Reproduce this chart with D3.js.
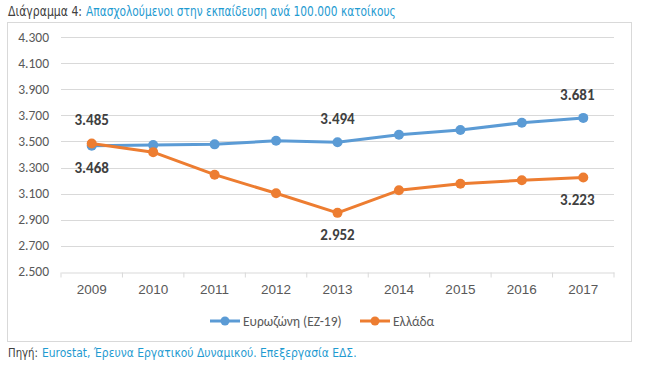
<!DOCTYPE html>
<html><head><meta charset="utf-8">
<script src="https://cdn.jsdelivr.net/npm/d3@7"></script>
<style>
body{margin:0;background:#fff;}
svg{display:block;font-family:Carlito,Calibri,"Open Sans",sans-serif;}
</style></head>
<body><svg id="c" width="647" height="370"></svg>
<script>
const years = ["2009","2010","2011","2012","2013","2014","2015","2016","2017"];
const eurozone = [3468,3472,3478,3506,3494,3552,3588,3644,3681];
const greece = [3485,3418,3245,3102,2952,3125,3176,3202,3223];
const yTicks = [2500,2700,2900,3100,3300,3500,3700,3900,4100,4300];
const seriesNames = ["Ευρωζώνη (ΕΖ-19)","Ελλάδα"];
const colors = ["#5b9bd5","#ed7d31"];
// labelled points: [series index, year index, position]
const labelled = [[0,0,"below"],[1,0,"above"],[0,4,"above"],[1,4,"below"],[0,8,"above"],[1,8,"below"]];

const svg = d3.select("#c");
const fmtTick = v => (v/1000).toFixed(3);

// text squeezed horizontally to span [x0, x1]
function squeezed(str, x0, x1, yb, fs, fill){
  const g = svg.append("g");
  const tx = g.append("text").attr("font-size",fs).attr("fill",fill)
    .attr("font-family","'DejaVu Sans Condensed','DejaVu Sans',sans-serif").text(str);
  const w = tx.node().getComputedTextLength();
  g.attr("transform",`translate(${x0},${yb}) scale(${(x1-x0)/w},1)`);
}
squeezed("Διάγραμμα 4:", 8, 82, 15.5, 14.5, "#404040");
squeezed("Απασχολούμενοι στην εκπαίδευση ανά 100.000 κατοίκους", 86, 396, 15.5, 14.5, "#1f9bd1");

// frame
svg.append("rect").attr("x",7.5).attr("y",22.5).attr("width",624).attr("height",319)
  .attr("fill","none").attr("stroke","#d9d9d9");

const x = d3.scaleBand().domain(years).range([61,614]);
const y = d3.scaleLinear().domain([2500,4300]).range([271.7,37.3]);

// grid
svg.append("g").selectAll("line").data(yTicks.slice(1)).join("line")
  .attr("x1",61).attr("x2",614).attr("y1",d=>Math.round(y(d))+0.5).attr("y2",d=>Math.round(y(d))+0.5)
  .attr("stroke","#d9d9d9").attr("stroke-width",1);

// y labels
svg.append("g").selectAll("text").data(yTicks).join("text")
  .attr("x",49).attr("y",d=>y(d)+4.5).attr("text-anchor","end").attr("font-size",13.5).attr("fill","#595959")
  .text(fmtTick);

// x axis
const xa = svg.append("g").attr("transform",`translate(0,${Math.round(y(2500))+0.5})`)
  .call(d3.axisBottom(x).tickSize(0).tickPadding(12));
xa.select(".domain").attr("stroke","#d9d9d9");
xa.selectAll("text").attr("font-size",13.5).attr("fill","#595959").attr("font-family",null);
const bounds = years.map(d=>x(d)).concat([x.range()[1]]);
xa.selectAll("line.b").data(bounds).join("line").attr("class","b")
  .attr("x1",d=>d).attr("x2",d=>d).attr("y1",0).attr("y2",5).attr("stroke","#d9d9d9");

const cx = d => x(d)+x.bandwidth()/2;
const data = [eurozone, greece];
const line = d3.line().x((d,i)=>cx(years[i])).y(d=>y(d));
data.forEach((s,k)=>{
  svg.append("path").datum(s).attr("d",line).attr("fill","none").attr("stroke",colors[k]).attr("stroke-width",3).attr("stroke-linejoin","round");
  svg.append("g").selectAll("circle").data(s).join("circle")
    .attr("cx",(d,i)=>cx(years[i])).attr("cy",d=>y(d)).attr("r",5).attr("fill",colors[k]);
});

// data labels
svg.append("g").selectAll("text").data(labelled).join("text")
  .attr("x",d=>cx(years[d[1]])+ (d[1]===8?-6:0))
  .attr("y",d=>{const v=data[d[0]][d[1]]; return d[2]==="above"? y(v)-18 : y(v)+27;})
  .attr("text-anchor","middle").attr("font-size",15).attr("font-weight","bold").attr("fill","#404040")
  .text(d=>fmtTick(data[d[0]][d[1]]));

// legend
const lg = [[210,seriesNames[0]],[360,seriesNames[1]]];
lg.forEach((l,k)=>{
  const g = svg.append("g").attr("transform",`translate(${l[0]},321)`);
  g.append("line").attr("x1",0).attr("x2",30).attr("stroke",colors[k]).attr("stroke-width",3);
  g.append("circle").attr("cx",15).attr("r",4.5).attr("fill",colors[k]);
  g.append("text").attr("x",33).attr("y",4.5).attr("font-size",13.5).attr("fill","#595959").text(l[1]);
});

// source
squeezed("Πηγή:", 8, 38, 357, 12, "#404040");
squeezed("Eurostat, Έρευνα Εργατικού Δυναμικού. Επεξεργασία ΕΔΣ.", 42, 357, 357, 12, "#1f9bd1");
</script></body></html>
